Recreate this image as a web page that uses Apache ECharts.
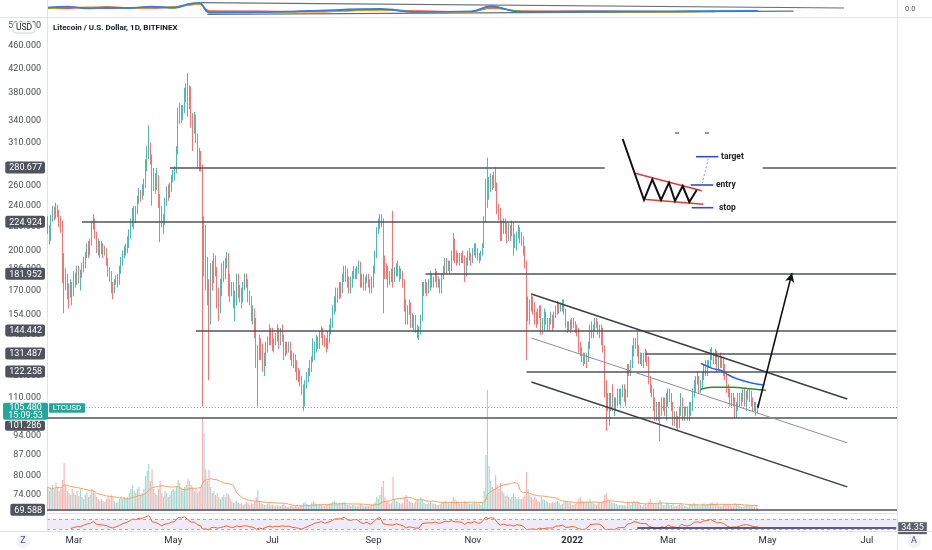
<!DOCTYPE html>
<html><head><meta charset="utf-8">
<script src="https://cdn.jsdelivr.net/npm/echarts@6/dist/echarts.min.js"></script>
<style>html,body{margin:0;padding:0;background:#fff}#c{width:932px;height:550px}</style>
</head><body><div id="c"></div>
<script>
// ---------- data ----------
const startDate = '2021-02-13';
const dayCount = 522;               // axis runs to 2022-07-19
const priceTicks = [500,460,420,380,340,310,260,240,220,200,186,170,154,142,130,120,110,94,87,80,74];
const levelTicks = [280.677,224.924,181.952,144.442,131.487,122.258,69.588];
const shiftedLevel = 101.286;       // its axis tag sits just below the live-price tag
const lastPrice = 105.48;
const lastTime = '15:09:53';
const symbolName = 'LTCUSD';
const titleText = 'Litecoin / U.S. Dollar, 1D, BITFINEX';

// daily candles [open, close, low, high]
const candles = [
// Feb 2021 (13-28)
[226,218,214,230],[218,210,205,222],[210,228,208,231],[228,236,225,240],[236,230,226,239],[230,238,228,243],[238,232,229,241],[232,226,220,236],[226,224,215,230],[224,195,175,226],[195,180,155,198],[180,178,170,186],[178,170,164,182],[170,168,158,175],[168,174,165,178],[174,168,160,176],
// Mar 2021
[168,180,166,184],[180,176,172,183],[176,184,174,188],[184,178,175,188],[178,182,170,185],[182,186,179,190],[186,192,183,195],[192,196,186,199],[196,202,194,206],[202,198,194,208],
[198,206,196,210],[206,222,204,226],[222,226,218,232],[226,214,210,228],[214,204,198,216],[204,206,196,210],[206,200,194,208],[200,204,197,208],[204,198,194,206],[198,200,196,204],
[200,192,188,202],[192,184,180,194],[184,180,176,187],[180,172,168,184],[172,170,164,176],[170,176,168,178],[176,178,174,181],[178,176,172,182],[176,184,174,188],[184,192,182,195],[192,196,188,200],
// Apr 2021
[196,200,194,204],[200,202,196,206],[202,204,198,212],[204,214,202,218],[214,224,210,228],[224,234,220,238],[234,226,218,240],[226,236,224,240],[236,246,232,250],[246,252,242,258],
[252,250,244,256],[250,256,246,262],[256,262,250,268],[262,280,258,290],[280,300,276,306],[300,305,290,333],[305,292,284,310],[292,265,240,296],[265,270,255,280],[270,262,252,274],
[262,266,256,280],[266,248,238,272],[248,234,207,252],[234,228,220,240],[228,224,214,232],[224,244,222,248],[244,256,240,260],[256,250,245,262],[250,258,248,264],[258,268,254,272],
// May 2021
[268,272,264,278],[272,276,266,282],[276,300,274,306],[300,352,296,358],[352,350,335,365],[350,348,336,362],[348,355,340,362],[355,380,350,388],[380,385,366,395],[385,360,345,412],
[360,384,356,392],[384,340,330,390],[340,330,300,350],[330,345,322,352],[345,318,310,348],[318,300,280,322],[300,290,276,304],[290,281,276,300],[281,200,106,284],[200,215,180,230],
[215,188,170,222],[188,172,160,195],[172,150,118,178],[150,185,148,190],[185,178,170,192],[178,192,175,198],[192,185,180,196],[185,165,158,187],[165,160,150,172],[160,172,155,178],[172,186,166,190],
// Jun 2021
[186,182,176,192],[182,190,178,194],[190,196,186,199],[196,178,166,198],[178,168,162,182],[168,172,166,176],[172,162,158,176],[162,166,150,170],[166,178,160,182],[178,170,165,182],
[170,168,162,174],[168,166,158,172],[166,174,162,176],[174,178,170,182],[178,176,172,182],[176,166,162,178],[166,164,160,170],[164,154,150,166],[154,156,148,160],[156,150,140,158],
[150,128,124,152],[128,132,106,136],[132,136,128,142],[136,134,128,140],[134,126,122,137],[126,128,120,132],[128,136,125,138],[136,138,132,141],[138,144,136,148],[144,142,136,146],
// Jul 2021
[142,136,133,146],[136,138,132,140],[138,140,136,143],[140,144,138,148],[144,138,134,146],[138,142,136,146],[142,140,138,148],[140,132,128,142],[132,136,130,138],[136,134,131,138],
[134,136,132,138],[136,132,128,138],[132,128,125,133],[128,130,124,132],[130,124,122,131],[124,122,118,128],[122,120,117,124],[120,118,115,123],[118,114,111,120],[114,108,104,116],
[108,116,106,118],[116,120,114,122],[120,122,117,124],[122,126,120,128],[126,128,122,130],[128,134,127,140],[134,136,128,138],[136,138,132,142],[138,138,134,141],[138,142,134,144],[142,144,140,147],
// Aug 2021
[144,140,136,146],[140,138,135,142],[138,136,132,140],[136,142,134,144],[142,146,137,148],[146,148,142,152],[148,156,146,160],[156,160,154,166],[160,168,156,172],[168,166,162,172],
[166,172,164,176],[172,170,165,176],[170,178,168,182],[178,184,176,188],[184,182,176,188],[182,176,172,186],[176,170,168,180],[170,176,168,180],[176,180,172,184],[180,184,178,188],
[184,182,178,186],[182,184,178,188],[184,190,182,192],[190,176,172,191],[176,180,172,182],[180,172,170,182],[172,178,170,180],[178,180,175,182],[180,176,172,182],[176,170,168,178],[170,176,168,180],
// Sep 2021
[176,184,172,188],[184,196,182,200],[196,216,194,220],[216,222,214,228],[222,228,218,232],[228,226,220,232],[226,190,155,228],[190,186,178,196],[186,184,178,190],[184,176,172,188],
[176,180,174,184],[180,184,176,186],[184,178,172,235],[178,184,176,187],[184,188,180,190],[188,184,180,192],[184,180,176,188],[180,182,178,186],[182,176,172,184],[176,160,156,178],
[160,152,148,164],[152,158,148,160],[158,160,154,164],[160,150,146,162],[150,152,146,155],[152,150,144,154],[150,146,143,154],[146,142,140,148],[142,144,139,147],[144,152,142,154],
// Oct 2021
[152,172,150,176],[172,170,166,176],[170,174,168,178],[174,172,166,176],[172,176,168,178],[176,178,170,184],[178,176,172,182],[176,178,172,180],[178,182,176,186],[182,174,172,184],
[174,176,172,180],[176,172,168,178],[172,180,168,182],[180,184,178,188],[184,190,182,194],[190,186,182,194],[186,188,184,192],[188,186,182,192],[186,196,184,200],[196,208,192,215],
[208,196,190,210],[196,194,188,200],[194,196,190,198],[196,192,188,198],[192,196,190,198],[196,194,190,200],[194,184,176,196],[184,190,180,194],[190,198,188,200],[198,196,192,202],[196,194,188,198],
// Nov 2021
[194,198,190,202],[198,204,196,206],[204,200,194,206],[200,196,192,202],[196,194,190,198],[194,198,192,200],[198,204,196,206],[204,226,202,230],[226,262,224,268],[262,250,238,292],
[250,262,246,270],[262,268,254,274],[268,264,256,272],[264,270,258,276],[270,262,255,281],[262,240,232,264],[240,236,226,242],[236,214,208,238],[214,222,208,226],[222,226,214,228],
[226,218,214,228],[218,212,206,224],[212,220,208,224],[220,216,208,222],[216,222,212,226],[222,204,196,224],[204,210,202,214],[210,214,200,216],[214,216,210,222],[216,212,206,220],
// Dec 2021
[212,208,204,216],[208,200,196,212],[200,190,186,204],[190,158,128,192],[158,162,150,166],[162,160,148,164],[160,164,156,168],[164,160,154,166],[160,152,148,162],[152,150,146,156],
[150,156,148,158],[156,158,152,160],[158,146,142,160],[146,148,142,152],[148,154,144,158],[154,150,148,156],[150,148,144,152],[148,150,144,152],[150,152,148,156],[152,148,144,154],
[148,154,146,156],[154,158,152,160],[158,160,154,163],[160,158,155,162],[158,160,156,162],[160,162,156,164],[162,156,154,164],[156,148,146,158],[148,146,143,150],[146,148,144,150],[148,146,143,151],
// Jan 2022
[146,150,145,152],[150,148,146,152],[148,146,143,150],[146,144,141,148],[144,136,132,146],[136,134,130,138],[134,130,127,135],[130,128,125,132],[128,130,126,132],[130,128,124,132],
[128,136,127,138],[136,146,134,148],[146,142,140,150],[142,146,140,148],[146,150,144,152],[150,148,146,152],[148,144,142,150],[144,146,140,148],[146,140,136,148],[140,134,132,146],
[134,116,110,136],[116,108,96,118],[108,110,104,112],[110,108,98,112],[108,110,104,112],[110,106,104,116],[106,106,102,110],[106,108,104,110],[108,112,106,114],[112,110,107,114],[110,112,106,114],
// Feb 2022
[112,114,110,116],[114,110,108,116],[110,112,106,114],[112,124,110,126],[124,122,120,126],[122,126,120,128],[126,134,124,136],[134,136,130,140],[136,138,134,140],[138,134,130,144],
[134,128,126,136],[128,130,126,132],[130,128,125,132],[128,130,124,132],[130,132,127,134],[132,128,125,133],[128,118,116,130],[118,114,112,120],[114,112,110,116],[112,106,104,114],
[106,104,100,110],[104,106,100,108],[106,102,100,108],[102,106,92,108],[106,108,102,110],[108,106,104,110],[106,104,102,110],[104,110,100,112],
// Mar 2022
[110,112,106,114],[112,110,108,114],[110,106,104,112],[106,100,98,108],[100,102,98,104],[102,100,97,104],[100,98,96,102],[98,104,97,106],[104,110,102,112],[110,102,100,110],
[102,104,100,106],[104,104,102,106],[104,102,100,106],[102,106,100,108],[106,106,102,108],[106,112,104,114],[112,116,110,118],[116,118,112,120],[118,118,116,122],[118,114,112,120],
[114,116,112,118],[116,120,114,122],[120,124,118,126],[124,122,120,128],[122,126,120,128],[126,126,124,128],[126,132,124,134],[132,130,128,135],[130,128,126,132],[128,132,126,134],[132,124,122,133],
// Apr 2022 (1-25)
[124,128,122,130],[128,126,124,132],[126,128,124,130],[128,124,120,130],[124,120,118,126],[120,114,112,122],[114,112,110,116],[112,108,106,114],[108,110,106,112],[110,108,106,112],
[108,102,101,110],[102,106,101,108],[106,110,104,112],[110,108,106,112],[108,110,106,112],[110,112,108,114],[112,108,106,114],[108,112,104,113],[112,112,109,114],[112,110,108,114],
[110,108,106,113],[108,106,104,110],[106,106,104,108],[106,104,102,108],[104,105.48,103,107]
];

// daily volume (relative units)
const volumes = [
24,20,22,26,22,28,24,20,22,31,48,26,20,18,16,22,
18,16,20,15,22,14,12,16,18,14,16,22,20,18,14,12,10,12,10,9,12,14,12,16,14,10,8,9,12,14,12,
14,12,14,18,22,26,20,18,22,24,16,18,22,35,40,47,30,42,22,18,16,22,30,18,14,20,18,14,16,20,
22,20,24,31,28,22,20,24,26,32,30,26,24,20,22,18,20,24,93,78,42,30,41,24,18,20,16,18,14,12,14,
16,14,18,16,12,10,8,9,10,8,7,8,6,7,9,8,6,8,7,9,14,21,10,8,7,6,6,7,8,6,
6,5,5,6,5,5,6,7,5,4,4,5,5,4,5,5,4,5,6,8,9,7,6,6,8,10,8,7,6,7,6,
5,5,6,6,7,8,9,10,9,7,8,7,8,9,7,6,6,5,6,6,5,5,6,7,6,5,5,5,5,6,6,
7,9,14,12,16,24,30,14,10,9,7,8,34,12,10,9,8,7,8,14,16,12,10,9,8,8,10,12,10,14,
12,8,7,7,8,9,8,7,7,6,6,7,8,9,10,9,8,7,10,14,12,10,8,7,8,7,10,9,8,7,7,
8,9,8,7,7,6,8,20,56,121,45,30,24,22,36,26,22,28,20,18,15,16,14,12,14,18,14,12,14,12,
12,14,16,39,22,16,14,12,14,12,10,9,14,12,11,10,9,8,8,9,8,9,10,8,6,7,9,10,9,8,8,
6,6,7,8,12,14,10,9,8,10,9,12,9,8,7,6,8,9,8,10,16,18,12,10,9,8,8,7,6,6,6,
6,6,5,9,8,6,9,10,8,10,9,6,5,6,7,6,9,12,8,7,8,7,8,11,8,6,6,8,
7,6,6,7,5,5,6,7,8,6,5,5,4,6,6,7,8,7,6,5,5,7,8,6,7,6,8,9,7,7,9,
6,5,5,6,7,7,6,6,5,5,8,7,6,5,4,4,5,6,6,5,5,5,4,5,3
];

// horizontal levels drawn on the chart: [price, from, to]
const levelSegments = [
  [280.677,'2021-04-29','2022-01-21'],[280.677,'2022-04-28','2022-07-19'],
  [224.924,'2021-03-06','2022-07-19'],[181.952,'2021-10-03','2022-07-19'],
  [144.442,'2021-05-15','2022-07-19'],[131.487,'2022-02-15','2022-07-19'],
  [122.258,'2021-12-04','2022-07-19']
];
const fullLevels = [101.286, 69.588];
// descending channel: [from, price, to, price]
const channelUpper = ['2021-12-07',167.6,'2022-06-19',109.3];
const channelMid   = ['2021-12-07',140.1,'2022-06-19',91.4];
const channelLower = ['2021-12-07',117.1,'2022-06-19',76.4];
const arrowLine = ['2022-04-25',105.48,'2022-05-16',182.5];
const blueMA  = [['2022-03-21',126.4],['2022-03-28',123.8],['2022-04-03',122.6],['2022-04-07',120.5],['2022-04-13',118.4],['2022-04-22',116.5],['2022-04-29',115.7]];
const greenMA = [['2022-03-21',113.7],['2022-03-28',114.6],['2022-04-09',114.6],['2022-04-22',113.8],['2022-04-30',113.3]];
const rsiLevel = ['2022-02-10', 34.35];
// top indicator pane (day index, value)
const topBlue   = [[0,5.6],[12,6.2],[24,5.0],[36,5.6],[50,5.2],[64,6.2],[78,5.6],[86,7.6],[93,8.4],[99,2.6],[130,2.8],[160,3.6],[205,4.8],[225,3.0],[260,3.4],[272,6.4],[290,3.0],[330,3.3],[380,3.4],[436,3.6]];
const topGreen  = [[0,5.2],[12,5.8],[24,5.4],[36,5.0],[50,5.6],[64,5.8],[78,5.2],[86,7.2],[93,8.0],[99,3.1],[130,3.0],[160,3.3],[205,4.4],[225,3.2],[260,3.2],[272,5.9],[290,3.3],[330,3.0],[380,3.1],[410,3.2]];
const topOrange = [[0,5.0],[12,5.5],[24,5.8],[36,5.3],[50,5.0],[64,5.5],[78,5.9],[86,6.8],[93,7.6],[99,3.4],[130,3.2],[160,3.0],[205,4.0],[225,3.4],[260,3.0],[272,5.5],[290,3.5],[330,3.2],[380,3.0],[400,3.1]];
const topRed    = [[0,5.4],[12,5.1],[24,5.6],[36,5.9],[50,5.4],[64,5.2],[78,6.0],[86,7.0],[93,7.8],[99,3.6],[130,3.4],[160,3.1],[205,4.2],[225,3.6],[260,3.1],[272,5.2],[290,3.6],[330,3.4],[380,3.2],[395,3.3]];
const topGrayHi = [[94,8.4],[489,5.3]];
const topGrayLo = [[98,1.6],[458,3.4]];

// ---------- build ----------
const dates = [];
{ const t0 = Date.parse(startDate + 'T00:00:00Z');
  for (let i = 0; i < dayCount; i++) dates.push(new Date(t0 + i * 86400000).toISOString().slice(0, 10)); }

const volData = volumes.map((v, i) => ({ value: v, itemStyle: { color: candles[i][1] >= candles[i][0] ? 'rgba(38,166,154,0.45)' : 'rgba(239,83,80,0.45)' } }));
const volMA = volumes.map((v, i) => { const n = Math.min(20, i + 1); let s = 0; for (let k = i - n + 1; k <= i; k++) s += volumes[k]; return +(s / n).toFixed(2); });
const closes = candles.map(c => c[1]);
function rsi(arr, n) {
  const out = new Array(arr.length).fill(null); let g = 0, l = 0;
  for (let i = 1; i < arr.length; i++) {
    const d = arr[i] - arr[i - 1], up = Math.max(d, 0), dn = Math.max(-d, 0);
    if (i <= n) { g += up; l += dn; if (i === n) { g /= n; l /= n; out[i] = 100 - 100 / (1 + g / (l || 1e-9)); } }
    else { g = (g * (n - 1) + up) / n; l = (l * (n - 1) + dn) / n; out[i] = 100 - 100 / (1 + g / (l || 1e-9)); }
  }
  return out;
}
const rsiData = rsi(closes, 14).map(v => v == null ? null : +v.toFixed(2));

const LINE = { color: '#50535e', width: 1.5, type: 'solid' };
const mlData = [];
levelSegments.forEach(s => mlData.push([{ coord: [s[1], s[0]], lineStyle: LINE }, { coord: [s[2], s[0]] }]));
fullLevels.forEach(v => mlData.push({ yAxis: v, lineStyle: LINE }));
mlData.push({ yAxis: lastPrice, lineStyle: { color: '#9598a1', width: 1, type: [1, 2] } });
[[channelUpper, { color: '#3d3f46', width: 1.5, type: 'solid' }], [channelMid, { color: '#8a8d96', width: 1, type: 'solid' }], [channelLower, { color: '#3d3f46', width: 1.5, type: 'solid' }]]
  .forEach(([c, st]) => mlData.push([{ coord: [c[0], c[1]], lineStyle: st }, { coord: [c[2], c[3]] }]));
mlData.push([{ coord: [arrowLine[0], arrowLine[1]], symbol: 'none', lineStyle: { color: '#111', width: 1.6, type: 'solid' } },
             { coord: [arrowLine[2], arrowLine[3]], symbol: 'arrow', symbolSize: [7, 9] }]);

const isLevel = v => levelTicks.some(t => Math.abs(t - v) < 0.01);
const MON = ['Jan','Feb','Mar','Apr','May','Jun','Jul','Aug','Sep','Oct','Nov','Dec'];
const isMark = v => v.slice(8) === '01' && (+v.slice(5, 7)) % 2 === 1;

const FONT = 'Roboto, "Open Sans", sans-serif';
const hiddenX = idx => ({ type: 'category', gridIndex: idx, data: dates, boundaryGap: true, show: false });

const option = {
  animation: false,
  textStyle: { fontFamily: FONT },
  grid: [
    { left: 47, right: 35, top: 0, height: 17 },
    { left: 47, right: 35, top: 18, height: 494 },
    { left: 47, right: 35, top: 381, height: 130 },
    { left: 47, right: 35, top: 515, height: 16 }
  ],
  xAxis: [
    hiddenX(0), hiddenX(1), hiddenX(2),
    { type: 'category', gridIndex: 3, data: dates, boundaryGap: true,
      axisLine: { show: false }, axisTick: { show: false },
      axisLabel: { interval: (i, v) => isMark(v), margin: 5, fontSize: 9.5, color: '#2a2e39',
        formatter: v => { const m = +v.slice(5, 7); return m === 1 ? '{y|' + v.slice(0, 4) + '}' : MON[m - 1]; },
        rich: { y: { fontWeight: 'bold', fontSize: 9.5, color: '#2a2e39' } } } }
  ],
  yAxis: [
    { type: 'value', gridIndex: 0, min: 0, max: 10, show: false },
    { type: 'log', gridIndex: 1, min: 68.98, max: 515.7, position: 'left',
      axisLine: { show: true, lineStyle: { color: '#e0e3eb' } }, axisTick: { show: false }, splitLine: { show: false },
      axisLabel: { customValues: priceTicks.concat(levelTicks), margin: 2, fontSize: 9, color: '#4a4d55',
        formatter: v => isLevel(v) ? '{b|' + v.toFixed(3) + '}' : '{p|' + v.toFixed(3) + '}',
        rich: { p: { fontSize: 9, color: '#4a4d55', padding: [0, 4, 0, 0] },
                b: { fontSize: 9, color: '#fff', backgroundColor: '#50535e', padding: [2, 3, 1, 4], borderRadius: 2 } } } },
    { type: 'value', gridIndex: 2, min: 0, max: 130, show: false },
    { type: 'value', gridIndex: 3, min: 23, max: 87, show: false }
  ],
  series: [
    { type: 'line', xAxisIndex: 0, yAxisIndex: 0, data: topGrayHi, symbol: 'none', lineStyle: { color: '#6b6e78', width: 1.2 } },
    { type: 'line', xAxisIndex: 0, yAxisIndex: 0, data: topGrayLo, symbol: 'none', lineStyle: { color: '#6b6e78', width: 1.2 } },
    { type: 'line', xAxisIndex: 0, yAxisIndex: 0, data: topRed, symbol: 'none', smooth: 0.4, lineStyle: { color: '#f23645', width: 1.2 } },
    { type: 'line', xAxisIndex: 0, yAxisIndex: 0, data: topOrange, symbol: 'none', smooth: 0.4, lineStyle: { color: '#ff9800', width: 1.2 } },
    { type: 'line', xAxisIndex: 0, yAxisIndex: 0, data: topGreen, symbol: 'none', smooth: 0.4, lineStyle: { color: '#43a047', width: 1.2 } },
    { type: 'line', xAxisIndex: 0, yAxisIndex: 0, data: topBlue, symbol: 'none', smooth: 0.4, lineStyle: { color: '#2f7fe8', width: 1.6 } },
    { type: 'bar', xAxisIndex: 2, yAxisIndex: 2, data: volData, barWidth: 1.1 },
    { type: 'line', xAxisIndex: 2, yAxisIndex: 2, data: volMA, symbol: 'none', lineStyle: { color: '#f6a15f', width: 1 } },
    { type: 'candlestick', xAxisIndex: 1, yAxisIndex: 1, data: candles, barWidth: 1.1,
      itemStyle: { color: '#26a69a', color0: '#ef5350', borderColor: '#26a69a', borderColor0: '#ef5350', borderWidth: 0.8 },
      markLine: { silent: true, symbol: ['none', 'none'], label: { show: false }, data: mlData } },
    { type: 'line', xAxisIndex: 1, yAxisIndex: 1, data: blueMA, symbol: 'none', smooth: 0.4, lineStyle: { color: '#2962ff', width: 1.5 } },
    { type: 'line', xAxisIndex: 1, yAxisIndex: 1, data: greenMA, symbol: 'none', smooth: 0.4, lineStyle: { color: '#2e8b3a', width: 1.5 } },
    { type: 'line', xAxisIndex: 3, yAxisIndex: 3, data: rsiData, symbol: 'none', lineStyle: { color: '#f0652f', width: 1 },
      markArea: { silent: true, itemStyle: { color: 'rgba(126,87,194,0.12)' }, data: [[{ yAxis: 70 }, { yAxis: 30 }]] },
      markLine: { silent: true, symbol: ['none', 'none'], label: { show: false },
        data: [
          { yAxis: 70, lineStyle: { color: '#a7a9b3', type: [3, 3], width: 1 } },
          { yAxis: 30, lineStyle: { color: '#a7a9b3', type: [3, 3], width: 1 } },
          [{ coord: [rsiLevel[0], rsiLevel[1]], lineStyle: { color: '#262b7a', width: 1.5, type: 'solid' },
             label: { show: true, position: 'end', distance: 2, formatter: String(rsiLevel[1]), color: '#fff', backgroundColor: '#5d606b', padding: [2, 3, 1, 3], fontSize: 9 } },
           { coord: [dates[dates.length - 1], rsiLevel[1]] }]
        ] } }
  ]
};

const chart = echarts.init(document.getElementById('c'), null, { renderer: 'canvas' });
chart.setOption(option);

// ---------- overlay decorations ----------
const yLast = chart.convertToPixel({ yAxisIndex: 1 }, lastPrice);
const yShift = chart.convertToPixel({ yAxisIndex: 1 }, shiftedLevel);
const g = [];
const ln = (x1, y1, x2, y2, st) => ({ type: 'line', shape: { x1, y1, x2, y2 }, style: Object.assign({ stroke: '#e0e3eb', lineWidth: 1 }, st || {}), silent: true, z: 100 });
const tx = (x, y, t, st) => ({ type: 'text', x, y, style: Object.assign({ text: t, fontFamily: FONT, fontSize: 9, fill: '#131722', verticalAlign: 'middle' }, st || {}), silent: true, z: 110 });
// pane separators
g.push(ln(0, 17.5, 932, 17.5), ln(47.5, 513.5, 897, 513.5), ln(0, 531.5, 932, 531.5), ln(897.5, 0, 897.5, 550), ln(47.5, 0, 47.5, 18), ln(47.5, 513, 47.5, 532));
// title, USD badge
g.push(tx(53, 28, titleText, { fontSize: 8, fontWeight: 'bold' }));
g.push({ type: 'rect', shape: { x: 13, y: 22, width: 22, height: 11, r: 3 }, style: { fill: '#fff', stroke: '#d1d4dc', lineWidth: 1 }, z: 105 });
g.push(tx(24, 27.5, 'USD', { fontSize: 8.5, align: 'center', fill: '#131722' }));
// 101.286 tag pushed below the live-price tag
g.push({ type: 'rect', shape: { x: 5, y: yShift + 3, width: 40, height: 10, r: 2 }, style: { fill: '#50535e' }, z: 104 });
g.push(tx(25, yShift + 8.2, shiftedLevel.toFixed(3), { fill: '#fff', align: 'center', fontSize: 9 }));
// current price box + symbol tag
g.push({ type: 'rect', shape: { x: 3, y: yLast - 5, width: 45, height: 17, r: 2 }, style: { fill: '#26a69a' }, z: 105 });
g.push(tx(25.5, yLast, lastPrice.toFixed(3), { fill: '#fff', align: 'center', fontSize: 9 }));
g.push(tx(25.5, yLast + 8.5, lastTime, { fill: '#fff', align: 'center', fontSize: 9 }));
g.push({ type: 'rect', shape: { x: 49, y: yLast - 4.5, width: 36, height: 9.5, r: 1 }, style: { fill: '#26a69a' }, z: 105 });
g.push(tx(67, yLast + 0.3, symbolName, { fill: '#fff', align: 'center', fontSize: 8 }));
// right strip / corner badges
g.push(tx(905, 9, '0.0', { fontSize: 7.5, fill: '#50535e' }));
g.push({ type: 'circle', shape: { cx: 23, cy: 541, r: 7 }, style: { fill: '#f0f3fa' }, z: 105 });
g.push(tx(23, 541, 'Z', { fontSize: 9, align: 'center', fill: '#50535e' }));
g.push({ type: 'circle', shape: { cx: 914, cy: 541, r: 7 }, style: { fill: '#f0f3fa' }, z: 105 });
g.push(tx(914, 541, 'A', { fontSize: 9, align: 'center', fill: '#50535e' }));
// pasted falling-wedge illustration
g.push({ type: 'polyline', shape: { points: [[622.7,139],[644,200],[652.3,179.3],[661,200],[669,182.7],[675,201],[682.7,186],[689.3,202],[696.7,190]] }, style: { stroke: '#111', lineWidth: 2, fill: null }, z: 108 });
g.push(ln(635, 173.3, 701.7, 190.7, { stroke: '#e53935', lineWidth: 1.6 }), ln(643.3, 199.3, 703.3, 204.3, { stroke: '#e53935', lineWidth: 1.6 }));
g.push(ln(696, 156.7, 718.3, 156.7, { stroke: '#3949d8', lineWidth: 1.6 }), ln(690.7, 185, 713.3, 185, { stroke: '#3949d8', lineWidth: 1.6 }), ln(691.7, 207.7, 713.3, 207.7, { stroke: '#3949d8', lineWidth: 1.6 }));
g.push(ln(708.3, 158.5, 702.3, 183, { stroke: '#8c9af0', lineWidth: 1, lineDash: [2, 2] }));
g.push(ln(675, 133, 679, 133, { stroke: '#333', lineWidth: 1 }), ln(705, 133, 709, 133, { stroke: '#333', lineWidth: 1 }));
g.push(tx(721, 156.7, 'target', { fontSize: 8.5, fontWeight: 'bold', fill: '#222' }));
g.push(tx(716, 185, 'entry', { fontSize: 8.5, fontWeight: 'bold', fill: '#222' }));
g.push(tx(719, 207.7, 'stop', { fontSize: 8.5, fontWeight: 'bold', fill: '#222' }));
if (candles.length !== 437 || volumes.length !== 437) g.push(tx(300, 300, 'LEN ' + candles.length + '/' + volumes.length, { fontSize: 20, fill: 'red' }));
chart.setOption({ graphic: g });
</script></body></html>
